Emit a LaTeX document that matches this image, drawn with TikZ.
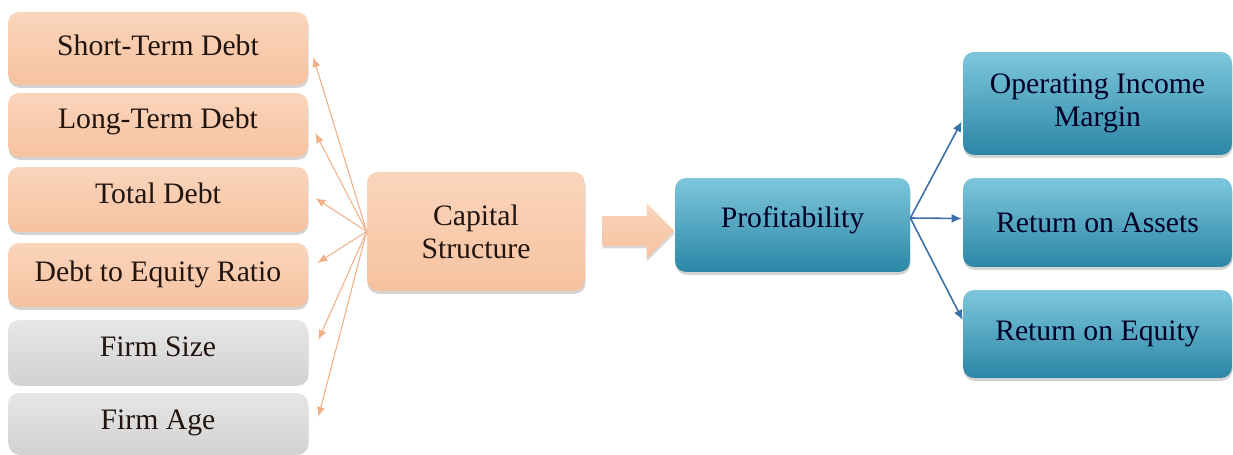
\documentclass[tikz,border=0pt]{standalone}
\usepackage{fontspec}
\setmainfont{Liberation Serif}
\usetikzlibrary{shapes.arrows,shadows,arrows.meta}
\definecolor{peachtop}{HTML}{FAD5BC}
\definecolor{peachbot}{HTML}{F6C2A0}
\definecolor{greytop}{HTML}{E6E6E6}
\definecolor{greybot}{HTML}{D3D3D3}
\definecolor{bluetop}{HTML}{7DC7DC}
\definecolor{bluebot}{HTML}{2B86A6}
\definecolor{fanline}{HTML}{F0B088}
\definecolor{bluearrow}{HTML}{3B6FA6}
\definecolor{ink}{HTML}{221510}

\begin{document}
\begin{tikzpicture}[x=0.02cm,y=-0.02cm,
  box/.style={rounded corners=0.22cm,align=center,inner sep=0pt,text=ink,
    drop shadow={opacity=0.35,shadow xshift=0.3pt,shadow yshift=-1.6pt},
    font=\fontsize{16.9}{18.8}\selectfont},
  peachbox/.style={box,top color=peachtop,bottom color=peachbot},
  greybox/.style={box,top color=greytop,bottom color=greybot},
  bluebox/.style={box,top color=bluetop,bottom color=bluebot,text=black!85!blue},
  side/.style={minimum width=6cm,minimum height=#1,text height=0.4cm,text depth=0.2cm},
  fan/.style={fanline,line width=0.6pt,-{Latex[length=0.2cm,width=0.16cm]}},
  split/.style={bluearrow,line width=0.9pt,-{Latex[length=0.2cm,width=0.18cm]}}]
\useasboundingbox (0,0) rectangle (1233,455);
\node (st) [peachbox,side=1.46cm,text depth=0.1cm] at (158,48.5) {Short-Term Debt};
\node (lt) [peachbox,side=1.28cm,text depth=0.24cm] at (158,125) {Long-Term Debt};
\node (td) [peachbox,side=1.3cm,text depth=0.22cm] at (158,199.5) {Total Debt};
\node (de) [peachbox,side=1.28cm,text depth=0.14cm] at (158,275) {Debt to Equity Ratio};
\node (fs) [greybox,side=1.26cm] at (158,351.5) {Firm Size};
\node (fa) [greybox,side=1.18cm,text depth=0.1cm] at (158,422.5) {Firm Age};
\node (cs) [peachbox,minimum width=4.36cm,minimum height=2.38cm] at (476,231.5) {Capital\\Structure};
\node (flow) [single arrow,top color=peachtop,bottom color=peachbot,draw=none,
  minimum height=1.44cm,minimum width=1.1cm,single arrow head extend=0.26cm,
  inner xsep=0pt,inner ysep=0.29cm,
  drop shadow={opacity=0.3,shadow xshift=0.3pt,shadow yshift=-1.4pt}] at (631,231) {};
\node (prof) [bluebox,minimum width=4.7cm,minimum height=1.88cm,text height=0.4cm,text depth=0.3cm] at (792.5,225) {Profitability};
\node (oim) [bluebox,minimum width=5.38cm,minimum height=2.06cm] at (1097.5,103.5) {Operating Income\\Margin};
\node (roa) [bluebox,minimum width=5.38cm,minimum height=1.78cm] at (1097.5,222.5) {Return on Assets};
\node (roe) [bluebox,minimum width=5.38cm,minimum height=1.76cm] at (1097.5,334) {Return on Equity};
\draw[fan] (cs.west) -- ([shift={(5,8.5)}]st.east);
\draw[fan] (cs.west) -- ([shift={(7,8)}]lt.east);
\draw[fan] (cs.west) -- ([shift={(7,-1.5)}]td.east);
\draw[fan] (cs.west) -- ([shift={(9,-12)}]de.east);
\draw[fan] (cs.west) -- ([shift={(10,-11.5)}]fs.east);
\draw[fan] (cs.west) -- ([shift={(10,-5.5)}]fa.east);
\draw[split] ([shift={(0,-7)}]prof.east) -- ([shift={(-1,18)}]oim.west);
\draw[split] ([shift={(0,-7)}]prof.east) -- ([shift={(-1,-4)}]roa.west);
\draw[split] ([shift={(0,-7)}]prof.east) -- ([shift={(0,-14)}]roe.west);
\end{tikzpicture}
\end{document}
